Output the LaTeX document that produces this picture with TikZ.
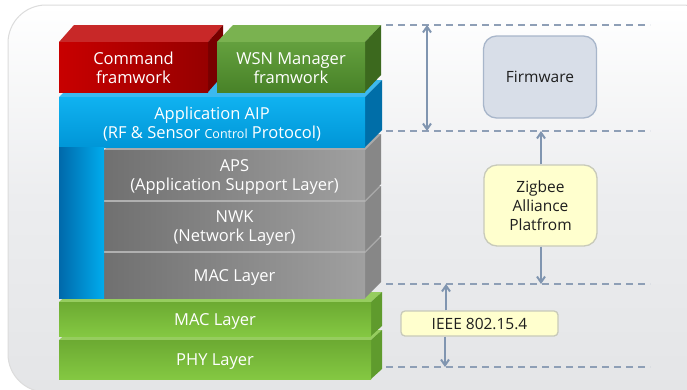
\documentclass[tikz,border=0pt]{standalone}
\usepackage{fontspec}
\setmainfont{Open Sans}
\usetikzlibrary{arrows.meta}
\definecolor{dashc}{HTML}{8E9FB6}
\definecolor{arrc}{HTML}{8095B0}
\definecolor{rtop}{HTML}{C82828}
\definecolor{rside}{HTML}{780000}
\definecolor{rfl}{HTML}{C80000}
\definecolor{rfr}{HTML}{960000}
\definecolor{wtop}{HTML}{7AB250}
\definecolor{wside}{HTML}{3C691E}
\definecolor{wft}{HTML}{64A03E}
\definecolor{wfb}{HTML}{488228}
\definecolor{gtop}{HTML}{AAAAAA}
\definecolor{gside}{HTML}{878787}
\definecolor{gfl}{HTML}{707070}
\definecolor{gfr}{HTML}{A0A0A0}
\definecolor{gsep}{HTML}{B0B0B0}
\definecolor{ltop}{HTML}{96CD5F}
\definecolor{lside}{HTML}{5F9B2D}
\definecolor{lft}{HTML}{6CAA32}
\definecolor{lfb}{HTML}{84C842}
\definecolor{btop}{HTML}{3CB9F0}
\definecolor{bside}{HTML}{006EA8}
\definecolor{bft}{HTML}{10B2F0}
\definecolor{bfb}{HTML}{0096D7}
\definecolor{bcl}{HTML}{0069AA}
\definecolor{bcr}{HTML}{00ACEE}
\definecolor{bgbord}{HTML}{DCDCDC}
\definecolor{bgmid}{HTML}{ECEDEF}
\definecolor{bgbot}{HTML}{E4E5E7}
\definecolor{txtd}{HTML}{1E1E1E}
\definecolor{fwfill}{HTML}{D8DEE8}
\definecolor{fwdraw}{HTML}{A8B6CA}
\definecolor{yfill}{HTML}{FFFFCE}
\definecolor{ydraw}{HTML}{C8CABA}
\newcommand\blk[7]{%
  \fill[#1top] (#2,#3) -- ++(#6,#7) -- (#4+#6,#3+#7) -- (#4,#3) -- cycle;
  \fill[#1side] (#4,#3) -- ++(#6,#7) -- (#4+#6,#5+#7) -- (#4,#5) -- cycle;
  \fill[#1front] (#2,#3) rectangle (#4,#5);
}
\tikzset{
  redtop/.style={fill=rtop},
  redside/.style={fill=rside},
  redfront/.style={left color=rfl, right color=rfr},
  wsntop/.style={fill=wtop},
  wsnside/.style={fill=wside},
  wsnfront/.style={top color=wft, bottom color=wfb},
  graytop/.style={fill=gtop},
  grayside/.style={fill=gside},
  grayfront/.style={left color=gfl, right color=gfr},
  lgtop/.style={fill=ltop},
  lgside/.style={fill=lside},
  lgfront/.style={top color=lft, bottom color=lfb},
  wtxt/.style={text=white, font=\fontsize{16.5}{19.5}\selectfont, align=center, inner sep=0pt},
  dtxt/.style={text=txtd, font=\fontsize{15.5}{19}\selectfont, align=center},
  dline/.style={draw=dashc, line width=1.5pt, dash pattern=on 7pt off 5pt},
  arr/.style={draw=arrc, line width=2pt, -{Straight Barb[angle=70:7pt,line width=2pt]}},
  darr/.style={draw=arrc, line width=2pt, {Straight Barb[angle=70:7pt,line width=2pt]}-{Straight Barb[angle=70:7pt,line width=2pt]}},
  rbox/.style={rounded corners=13pt, line width=1.3pt, minimum width=113pt, minimum height=82pt},
}
\begin{document}
\begin{tikzpicture}[x=1pt,y=-1pt]
\useasboundingbox (0,0) rectangle (687,389);
% background
\fill[white] (0,0) rectangle (687,389);
\draw[draw=bgbord, line width=1pt, top color=white, bottom color=bgbot, middle color=bgmid, rounded corners=38pt] (8,5) rectangle (720,392);
% lower green stack
\blk{lg}{59}{340}{371}{379}{11}{-10}
\blk{lg}{59}{302}{371}{336}{11}{-10}
% gray stack
\blk{gray}{104}{253}{365}{298}{16}{-16}
\blk{gray}{104}{202}{365}{251}{16}{-16}
\blk{gray}{104}{150}{365}{200}{16}{-16}
\fill[gsep] (104,200) rectangle (365,202);
\fill[gsep] (104,251) rectangle (365,253);
% blue L block
\fill[btop] (59,97) -- ++(17,-17) -- (382,80) -- (365,97) -- cycle;
\fill[bside] (365,97) -- (382,80) -- (382,130) -- (365,147) -- cycle;
\fill[top color=bft, bottom color=bfb] (59,97) rectangle (365,147);
\fill[left color=bcl, right color=bcr] (59,147) rectangle (104,298);
% top blocks
\blk{red}{59}{42}{208}{92}{15}{-17}
\blk{wsn}{217}{42}{365}{92}{16}{-17}
% block texts
\node[wtxt] (cmd) at (133.5,68) {Command\\framwork};
\node[wtxt] (wsn) at (291,68) {WSN Manager\\framwork};
\node[wtxt] (aip) at (212,124) {Application AIP\\(RF \& Sensor {\fontsize{12.5}{19.5}\selectfont Control} Protocol)};
\node[wtxt] (aps) at (234.5,177) {APS\\(Application Support Layer)};
\node[wtxt] (nwk) at (234.5,228) {NWK\\(Network Layer)};
\node[wtxt] (mac1) at (234.5,277) {MAC Layer};
\node[wtxt] (mac2) at (215,321) {MAC Layer};
\node[wtxt] (phy) at (215,362) {PHY Layer};
% dashed lines
\coordinate (d1a) at (386,25); \coordinate (d1b) at (650,25);
\coordinate (d2a) at (386,131); \coordinate (d2b) at (650,131);
\coordinate (d3a) at (386,284); \coordinate (d3b) at (650,284);
\coordinate (d4a) at (386,367); \coordinate (d4b) at (650,367);
\draw[dline] (d1a) -- (d1b);
\draw[dline] (d2a) -- (d2b);
\draw[dline] (d3a) -- (d3b);
\draw[dline] (d4a) -- (d4b);
% right boxes
\node[rbox, dtxt, fill=fwfill, draw=fwdraw] (fw) at (540,77) {Firmware};
\node[rbox, dtxt, fill=yfill, draw=ydraw, minimum height=81pt] (zig) at (540.5,205.5) {Zigbee\\Alliance\\Platfrom};
\node[dtxt, fill=yfill, draw=ydraw, line width=1.3pt, rounded corners=4pt, minimum width=157pt, minimum height=25pt, inner sep=0pt] (ieee) at (479.5,323.5) {IEEE 802.15.4};
% arrows
\coordinate (a1) at (427,25); \coordinate (a2) at (427,131);
\draw[darr] (a1) -- (a2);
\coordinate (z1) at (541,131); \coordinate (z2) at (541,284);
\draw[arr] (zig.north -| z1) -- (z1);
\draw[arr] (zig.south -| z2) -- (z2);
\coordinate (i1) at (446,284); \coordinate (i2) at (445,367);
\draw[arr] (ieee.north -| i1) -- (i1);
\draw[arr] (ieee.south -| i2) -- (i2);
\end{tikzpicture}
\end{document}
